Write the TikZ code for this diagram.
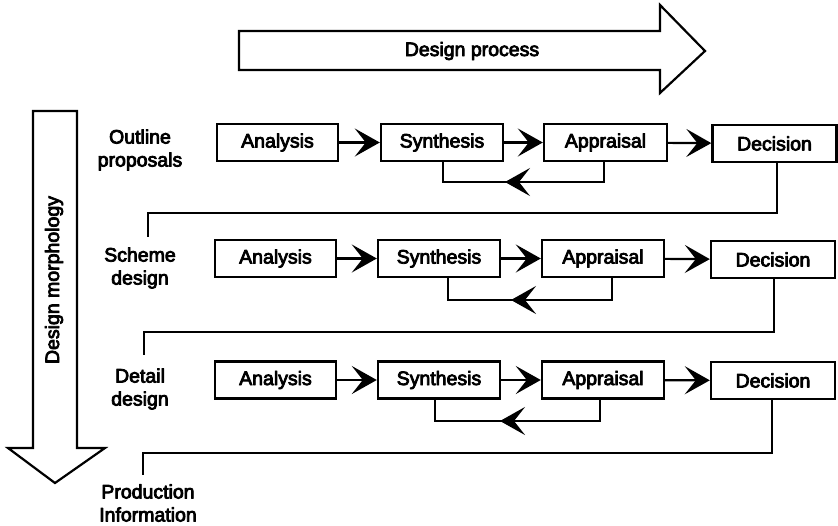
\documentclass[tikz,border=0pt]{standalone}
\usepackage{fontspec}
\setmainfont{Liberation Sans}
\newcommand\heavytext{\special{pdf:literal 2 Tr 0.8 w 1 j}}
\usetikzlibrary{arrows.meta}
\begin{document}
\begin{tikzpicture}[x=1pt,y=-1pt,
  font=\fontsize{19.5}{23}\selectfont\heavytext,
  stagebox/.style={draw,line width=2.4pt,minimum height=37pt,inner sep=0pt},
  conn/.style={line width=2.2pt},
  flow/.style={line width=2.2pt,arrows={-Stealth[length=25pt,width=28pt,inset=11pt]}},
  lbl/.style={align=center,inner sep=0pt},
  bigarrow/.style={draw,line width=2.2pt,line join=miter}]
\useasboundingbox (0,0) rectangle (838,525);

% big arrows
\draw[bigarrow] (239,31) -- (660,31) -- (660,5) -- (705,51) -- (660,93) -- (660,70) -- (239,70) -- cycle;
\node (dp) at (472,51) {Design process};
\draw[bigarrow] (33,111) -- (77,111) -- (77,448) -- (105,448) -- (55,483) -- (8,448) -- (33,448) -- cycle;
\node[rotate=90] (dm) at (54,280) {Design morphology};

% labels
\node[lbl] (l1) at (140,150) {Outline\\proposals};
\node[lbl] (l2) at (140,268) {Scheme\\design};
\node[lbl] (l3) at (140,389) {Detail\\design};
\node[lbl] (l4) at (148,503) {Production\\Information};

% row 1
\node[stagebox,minimum width=121pt] (a1) at (277.5,142.5) {Analysis};
\node[stagebox,minimum width=122pt] (s1) at (442,142.5) {Synthesis};
\node[stagebox,minimum width=123pt] (p1) at (605.5,142.5) {Appraisal};
\node[stagebox,minimum width=124pt] (d1) at (774.5,143.5) {Decision};
% row 2
\node[stagebox,minimum width=121pt] (a2) at (275.5,258.5) {Analysis};
\node[stagebox,minimum width=122pt] (s2) at (439,258.5) {Synthesis};
\node[stagebox,minimum width=122pt] (p2) at (603,258.5) {Appraisal};
\node[stagebox,minimum width=124pt] (d2) at (773,259.5) {Decision};
% row 3
\node[stagebox,minimum width=121pt] (a3) at (275.5,380) {Analysis};
\node[stagebox,minimum width=122pt] (s3) at (439,380) {Synthesis};
\node[stagebox,minimum width=122pt] (p3) at (603,380) {Appraisal};
\node[stagebox,minimum width=124pt] (d3) at (773,380.5) {Decision};

% forward arrows
\foreach \r in {1,2,3}{
  \draw[flow] (a\r) -- (s\r);
  \draw[flow] (s\r) -- (p\r);
  \draw[flow] (p\r) -- (d\r);
}

% feedback loops
\coordinate (f1a) at (604,182); \coordinate (f1m) at (505,182); \coordinate (f1s) at (443,182);
\draw[conn] (p1.south -| f1a) -- (f1a) -- (f1s) -- (s1.south -| f1s);
\draw[flow] (f1a) -- (f1m);
\coordinate (f2a) at (612,300); \coordinate (f2m) at (511,300); \coordinate (f2s) at (448,300);
\draw[conn] (p2.south -| f2a) -- (f2a) -- (f2s) -- (s2.south -| f2s);
\draw[flow] (f2a) -- (f2m);
\coordinate (f3a) at (600,421); \coordinate (f3m) at (500,421); \coordinate (f3s) at (435,421);
\draw[conn] (p3.south -| f3a) -- (f3a) -- (f3s) -- (s3.south -| f3s);
\draw[flow] (f3a) -- (f3m);

% links down to next stage
\coordinate (e1) at (148,237);
\coordinate (e2) at (144,355);
\coordinate (e3) at (143,475);
\draw[conn] (d1.south -| 777,0) -- (777,213) -- (148,213) -- (e1);
\draw[conn] (d2.south -| 774,0) -- (774,332) -- (144,332) -- (e2);
\draw[conn] (d3.south -| 772,0) -- (772,453) -- (143,453) -- (e3);
\end{tikzpicture}
\end{document}
